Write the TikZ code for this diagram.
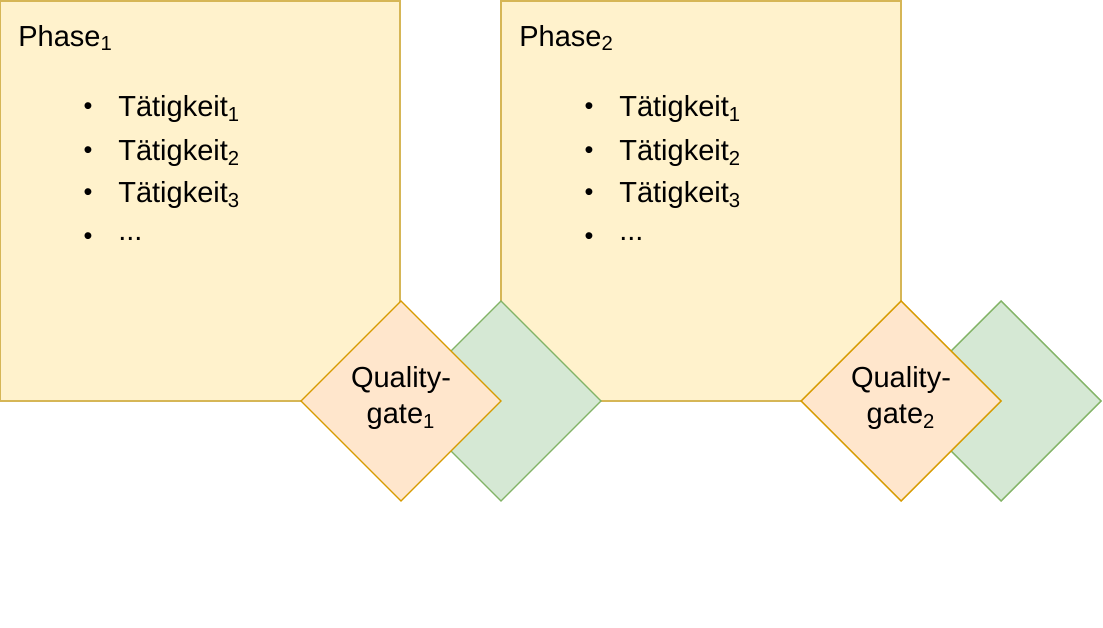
\documentclass[tikz,border=0pt]{standalone}
\usepackage{fontspec}
\setmainfont{Liberation Sans}
\usetikzlibrary{positioning}
\definecolor{phasefill}{HTML}{FFF2CC}
\definecolor{phasedraw}{HTML}{D6B656}
\definecolor{gatefill}{HTML}{FFE6CC}
\definecolor{gatedraw}{HTML}{D79B00}
\definecolor{backfill}{HTML}{D5E8D4}
\definecolor{backdraw}{HTML}{82B366}
\tikzset{
  phasebox/.style={fill=phasefill,draw=phasedraw,line width=0.8pt},
  gate/.style={fill=gatefill,draw=gatedraw,line width=0.8pt},
  backgate/.style={fill=backfill,draw=backdraw,line width=0.8pt},
  txt/.style={font=\fontsize{16.5pt}{19pt}\selectfont,inner sep=0pt}
}
\begin{document}
\begin{tikzpicture}[x=0.02cm,y=-0.02cm]
\useasboundingbox (0,0) rectangle (1103,628);
\foreach \i/\x in {1/0,2/501}{
\draw[phasebox] (\x,1) rectangle ++(400,400);
}
\foreach \i/\x in {1/401,2/901}{
\draw[backgate] (\x+100,301) -- (\x+200,401) -- (\x+100,501) -- (\x,401) -- cycle;
\draw[gate] (\x,301) -- (\x+100,401) -- (\x,501) -- (\x-100,401) -- cycle;
\node[txt,align=center] (gate\i) at (\x,398) {Quality-\\[2pt]gate\textsubscript{\i}};
}
\foreach \i/\x in {1/0,2/501}{
\node[txt,anchor=west] (phase\i) at (\x+18,38) {Phase\textsubscript{\i}};
\foreach \k/\y in {1/109,2/153,3/195}{
\node[txt] (dot\i\k) at (\x+88,\y) {\Large\textbullet};
\node[txt,anchor=west] (act\i\k) at (\x+118,\y) {Tätigkeit\textsubscript{\k}};
}
\node[txt] (dot\i4) at (\x+88,239) {\Large\textbullet};
\node[txt,anchor=west] (act\i4) at (\x+118,239) {...};
}
\end{tikzpicture}
\end{document}
